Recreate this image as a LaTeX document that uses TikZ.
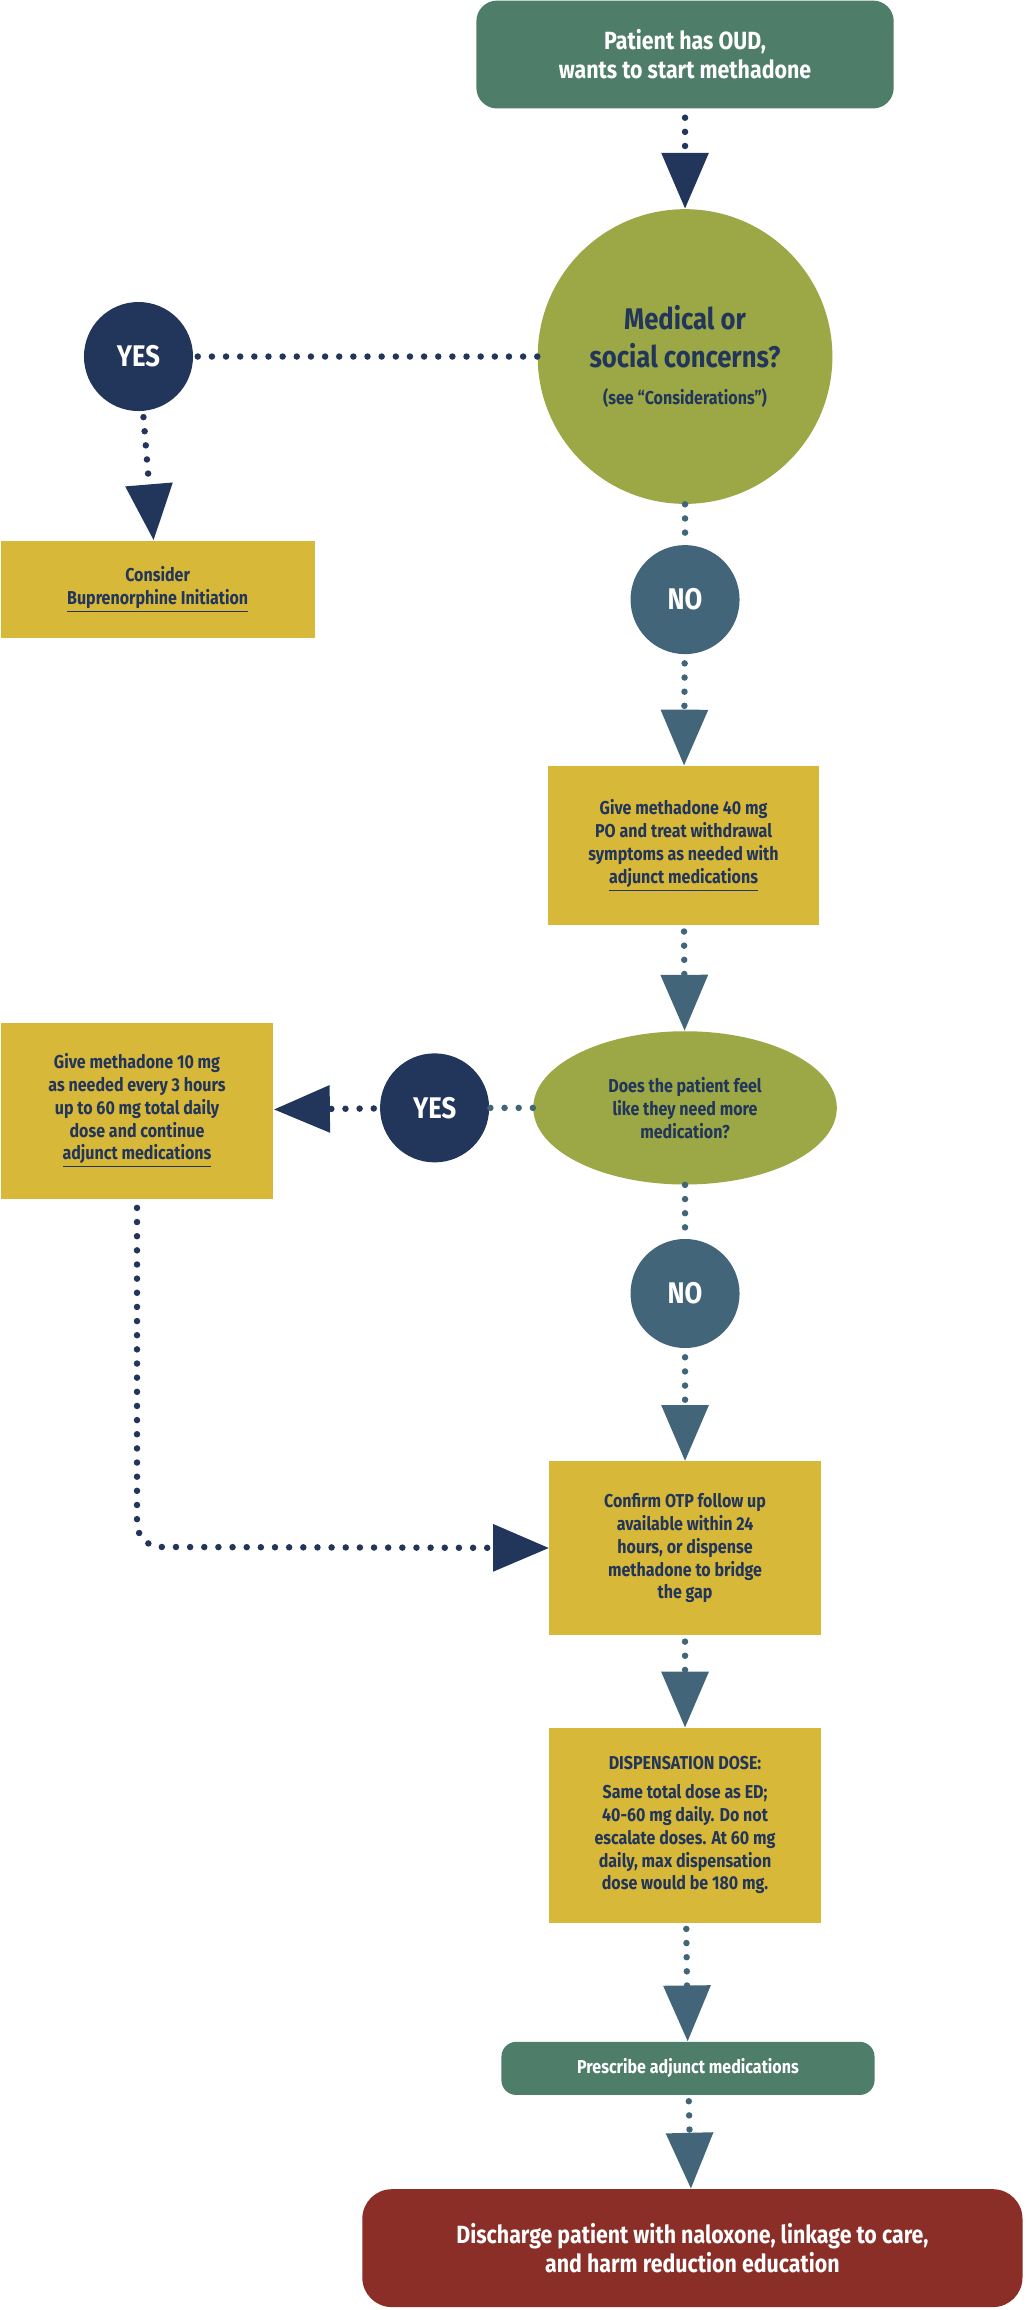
\documentclass[tikz,border=0pt]{standalone}
\usepackage{fontspec}
\setmainfont{Fira Sans}[FakeStretch=0.86]
\usetikzlibrary{arrows.meta,shapes.geometric}
\definecolor{navy}{HTML}{22355A}
\definecolor{slate}{HTML}{43657A}
\definecolor{olive}{HTML}{9BA845}
\definecolor{gold}{HTML}{D8B838}
\definecolor{sage}{HTML}{4E7D6A}
\definecolor{brick}{HTML}{8A2E27}
\tikzset{
  box/.style={rectangle,fill=gold,text=navy,font=\bfseries\small,align=center,inner sep=2pt},
  pill/.style={rectangle,rounded corners=0.35cm,fill=sage,text=white,font=\bfseries,align=center},
  yesno/.style={circle,minimum size=1.85cm,inner sep=0pt,text=white,font=\bfseries\Large},
  dots/.style={line width=0.11cm,line cap=round,dash pattern=on 0pt off 0.24cm},
  flow/.style={dots,-{Triangle[width=0.78cm,length=0.95cm]}},
}
\begin{document}
\begin{tikzpicture}[x=0.025cm,y=-0.025cm]
\useasboundingbox (0,0) rectangle (697,1568);
\node[pill,minimum width=7.08cm,minimum height=1.83cm,font=\bfseries\large] (start) at (465,37) {Patient has OUD,\\wants to start methadone};
\node[circle,fill=olive,minimum size=5cm,inner sep=0pt,text=navy,align=center,font=\bfseries\Large] (concern) at (465,242)
  {Medical or\\social concerns?\\\small (see “Considerations”)};
\node[yesno,fill=navy] (yes1) at (94,242) {YES};
\node[box,minimum width=5.33cm,minimum height=1.65cm] (bup) at (107,400) {Consider\\\underline{Buprenorphine Initiation}};
\node[yesno,fill=slate] (no1) at (465,407) {NO};
\node[box,minimum width=4.6cm,minimum height=2.7cm] (give40) at (464,574)
  {Give methadone 40 mg\\PO and treat withdrawal\\symptoms as needed with\\\underline{adjunct medications}};
\node[ellipse,fill=olive,minimum width=5.15cm,minimum height=2.6cm,inner sep=0pt,text=navy,font=\bfseries\small,align=center] (more) at (465,752)
  {Does the patient feel\\like they need more\\medication?};
\node[yesno,fill=navy] (yes2) at (295,752) {YES};
\node[box,minimum width=4.63cm,minimum height=2.98cm] (give10) at (93,754)
  {Give methadone 10 mg\\as needed every 3 hours\\up to 60 mg total daily\\dose and continue\\\underline{adjunct medications}};
\node[yesno,fill=slate] (no2) at (465,878) {NO};
\node[box,minimum width=4.6cm,minimum height=2.95cm] (otp) at (465,1051)
  {Confirm OTP follow up\\available within 24\\hours, or dispense\\methadone to bridge\\the gap};
\node[box,minimum width=4.6cm,minimum height=3.3cm] (disp) at (465,1239)
  {DISPENSATION DOSE:\\[3pt]Same total dose as ED;\\40-60 mg daily. Do not\\escalate doses. At 60 mg\\daily, max dispensation\\dose would be 180 mg.};
\node[pill,minimum width=6.33cm,minimum height=0.9cm,rounded corners=0.25cm,font=\bfseries\small] (adj) at (467,1404) {Prescribe adjunct medications};
\node[pill,fill=brick,minimum width=11.2cm,minimum height=2cm,rounded corners=0.5cm,font=\bfseries\large] (out) at (470,1526)
  {Discharge patient with naloxone, linkage to care,\\and harm reduction education};
\coordinate (bend) at (93,1050);
% connectors
\draw[flow,navy,shorten <=0.15cm] (start) -- (concern);
\draw[dots,navy] (concern) -- (yes1);
\draw[flow,navy,shorten <=0.1cm] (yes1) -- (bup);
\draw[dots,slate] (concern) -- (no1);
\draw[flow,slate,shorten <=0.15cm] (no1) -- (give40);
\draw[flow,slate,shorten <=0.1cm] (give40) -- (more);
\draw[dots,slate] (more) -- (yes2);
\draw[flow,navy,shorten <=0.1cm] (yes2) -- (give10);
\draw[dots,slate] (more) -- (no2);
\draw[flow,slate,shorten <=0.15cm] (no2) -- (otp);
\draw[flow,navy,rounded corners=0.4cm,shorten <=0.15cm] (give10) -- (bend) -- (otp);
\draw[flow,slate,shorten <=0.1cm] (otp) -- (disp);
\draw[flow,slate,shorten <=0.1cm] (disp) -- (adj);
\draw[flow,slate,shorten <=0.1cm] (adj) -- (out);
\end{tikzpicture}
\end{document}
